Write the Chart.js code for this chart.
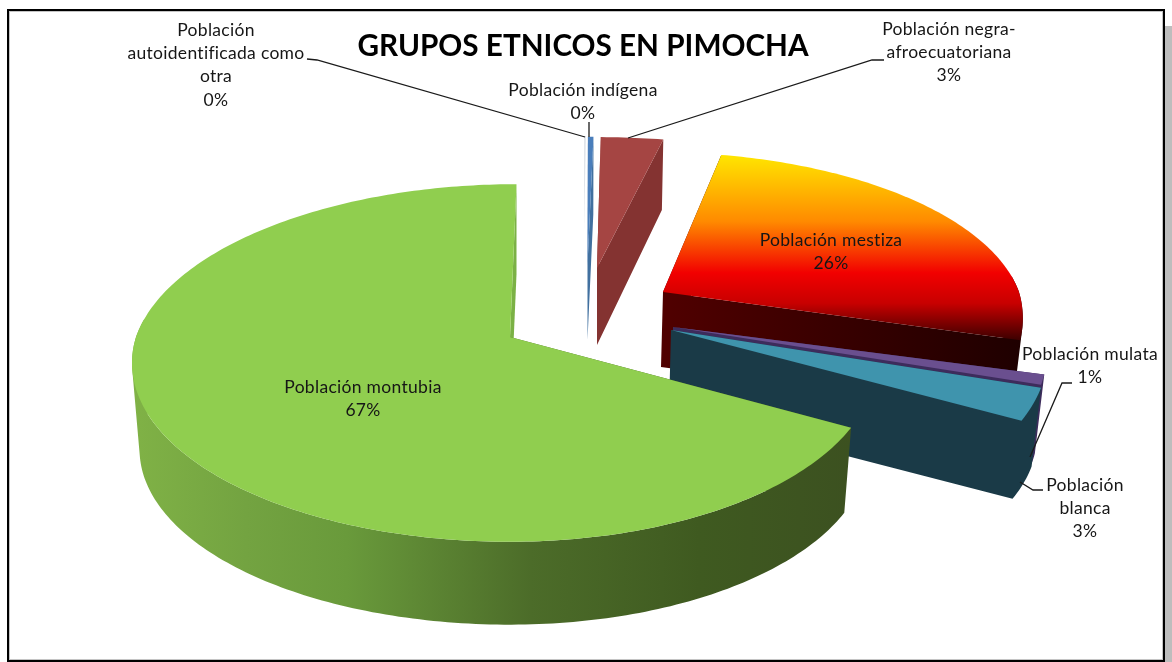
<!DOCTYPE html>
<html><head><meta charset="utf-8">
<style>
html,body{margin:0;padding:0;background:#fff;width:1172px;height:662px;overflow:hidden}
#wrap{position:absolute;left:0;top:0;width:1166px;height:662px}
#frame{position:absolute;left:7px;top:9px;width:1154px;height:649px;border:2px solid #000;box-shadow:inset 1px 1px 0 #c4c4c4,inset -1px -1px 0 #c4c4c4;pointer-events:none}
#shadow{position:absolute;left:1165px;top:26px;width:7px;height:636px;background:#bdbdbd}
</style></head><body>
<div id="wrap"><canvas id="c" width="1166" height="662"></canvas></div>
<div id="frame"></div><div id="shadow"></div>
<script src="https://cdn.jsdelivr.net/npm/chart.js@4"></script>
<script>
const chartTitle = 'GRUPOS ETNICOS EN PIMOCHA';
const categories = ['Población autoidentificada como otra','Población indígena','Población negra-afroecuatoriana','Población mestiza','Población mulata','Población blanca','Población montubia'];
const values = [0.1, 0.3, 2.9, 25.9, 0.9, 2.9, 67.0];
const topColors = ['#c4ccd6','#4a7ebb','#a54543','#ff0000','#6a4f8f','#3f94ad','#90ce4f'];
const wallColors = ['#c4ccd6','#41709f','#843331','#3a0000','#3d2c5c','#1a3a47','#5f8436'];
const labelLines = [
  ['Población','autoidentificada como','otra'],['Población indígena'],['Población negra-','afroecuatoriana'],
  ['Población mestiza'],['Población mulata'],['Población','blanca'],['Población montubia']];

// layout of the exploded, perspective view of each slice (index follows categories)
const sliceView = [
  {x:584.5,y:232,d:0,  fxE:180,fxW:180,fy:110,b:1,by:1,sk:0,bx:0},
  {x:587.5,y:265,d:75, fxE:340,fxW:340,fy:147,b:0.98,by:0.98,sk:-1.5,bx:0},
  {x:597,  y:268,d:77, fxE:395,fxW:395,fy:150,b:0.98,by:1.05,sk:-5,bx:0},
  {x:663,  y:292,d:75, fxE:356,fxW:356,fy:160,fyS:178,b:0.98,by:0.98,sk:-6,bx:-2},
  {x:673,  y:327,d:80, fxE:370,fxW:370,fy:175,b:0.98,by:0.98,sk:0,bx:-2},
  {x:671,  y:330,d:80, fxE:372,fxW:372,fy:175,b:0.98,by:0.98,sk:0,bx:-2},
  {x:510,  y:337,d:87, fxE:362,fxW:374,fy:175,b:0.98,by:0.98,sk:6.5,bx:0}];
const drawOrder = [0,1,2,3,4,5,6];
const K = 0.1453;
const labelPos = [[216,30],[583,90],[949,29],[831,240],[1090,354],[1085,485],[363,387]];
const leaders = [
  [[307,59],[317,60],[585,137]],[[589,122],[589,137]],[[884,60],[872,60],[628,138]],
  [],[[1072,383],[1062,383],[1030,457]],[[1043,490],[1033,490],[1020,482]],[]];
const LABEL_FONT = '17.5px Lato';

function pt(g,a,r,bottom){
  const u=r*Math.cos(a), v=r*Math.sin(a), w=1-K*v;
  const fx=u>0?g.fxE:g.fxW, fy=(v>0&&g.fyS)?g.fyS:g.fy;
  const shear=v<0?-v*g.sk:0;
  return [g.x+shear+fx*u/w*(bottom?g.b:1)+(bottom?g.bx:0), g.y+(bottom?g.d:0)+fy*v/w*(bottom?g.by:1)];
}
function addPoly(ctx,pts){
  // consistent winding so a union of quads fills with no seams
  let area=0;pts.forEach((p,i)=>{const q=pts[(i+1)%pts.length];area+=p[0]*q[1]-q[0]*p[1];});
  const o=area<0?pts.slice().reverse():pts;
  o.forEach((p,i)=>i?ctx.lineTo(p[0],p[1]):ctx.moveTo(p[0],p[1]));ctx.closePath();
}
function poly(ctx,pts,fill){ctx.beginPath();addPoly(ctx,pts);ctx.fillStyle=fill;ctx.fill();}
function wallFill(ctx,i){
  if(i===6){const g=ctx.createLinearGradient(132,0,850,0);
    g.addColorStop(0,'#80b246');g.addColorStop(0.16,'#73a341');g.addColorStop(0.3,'#699a3b');g.addColorStop(0.415,'#5c8533');g.addColorStop(0.555,'#4c6c29');g.addColorStop(0.79,'#3f5a20');g.addColorStop(1,'#3c5120');return g;}
  if(i===3){const g=ctx.createLinearGradient(663,0,1020,0);
    g.addColorStop(0,'#500000');g.addColorStop(1,'#1f0000');return g;}
  return wallColors[i];
}
function topFill(ctx,i){
  if(i===3){const g=ctx.createLinearGradient(0,155,0,345);
    g.addColorStop(0,'#ffe600');g.addColorStop(0.35,'#ff8a00');g.addColorStop(0.62,'#f20000');g.addColorStop(0.78,'#c80000');g.addColorStop(1,'#2a0000');return g;}
  return topColors[i];
}
const pie3d = {
  id:'pie3d',
  beforeDatasetsDraw(chart){
    const ctx=chart.ctx, arcs=chart.getDatasetMeta(0).data;
    ctx.save();
    drawOrder.forEach(i=>{
      const g=sliceView[i], a0=arcs[i].startAngle, a1=arcs[i].endAngle, n=Math.max(2,Math.ceil((a1-a0)*60));
      const ang=[];for(let k=0;k<=n;k++)ang.push(a0+(a1-a0)*k/n);
      const wf=wallFill(ctx,i);
      if(g.d>0){
        const A=pt(g,0,0,false),B=pt(g,0,0,true);
        if(i===6) poly(ctx,[A,pt(g,a1,1,false),pt(g,a1,1,true),B],'#7bb145');
        ctx.beginPath();
        addPoly(ctx,[A,pt(g,a0,1,false),pt(g,a0,1,true),B]);
        if(i!==6) addPoly(ctx,[A,pt(g,a1,1,false),pt(g,a1,1,true),B]);
        for(let k=0;k<n;k++){
          if(Math.sin(ang[k])<-0.1&&Math.sin(ang[k+1])<-0.1)continue; // back of the rim is hidden
          addPoly(ctx,[pt(g,ang[k],1,false),pt(g,ang[k+1],1,false),pt(g,ang[k+1],1,true),pt(g,ang[k],1,true)]);
        }
        ctx.fillStyle=wf;ctx.fill();
      }
      poly(ctx,[pt(g,0,0,false)].concat(ang.map(a=>pt(g,a,1,false))),topFill(ctx,i));
    });
    ctx.restore();
    return false;
  },
  afterDraw(chart){
    const ctx=chart.ctx;
    ctx.save();
    ctx.strokeStyle='#1a1a1a';ctx.lineWidth=1.3;
    leaders.forEach(l=>{if(!l.length)return;ctx.beginPath();l.forEach((p,i)=>i?ctx.lineTo(p[0],p[1]):ctx.moveTo(p[0],p[1]));ctx.stroke();});
    ctx.font=LABEL_FONT;ctx.letterSpacing='0.3px';ctx.fillStyle='#161616';ctx.textAlign='center';ctx.textBaseline='middle';
    const total=values.reduce((a,b)=>a+b,0);
    labelLines.forEach((ls,i)=>{
      const [x,y]=labelPos[i];
      ls.concat([Math.round(values[i]/total*100)+'%']).forEach((t,k)=>ctx.fillText(t,x,y+k*23.4));
    });
    ctx.restore();
  }
};
new Chart(document.getElementById('c'),{
  type:'pie',
  data:{labels:categories,datasets:[{data:values,backgroundColor:topColors,borderWidth:0}]},
  options:{
    responsive:false,animation:false,
    plugins:{
      legend:{display:false},tooltip:{enabled:false},
      title:{display:true,text:chartTitle,color:'#000',font:{family:'Lato',size:29.7,weight:'bold'},padding:{top:29,bottom:0}}
    }
  },
  plugins:[pie3d]
});
</script>
</body></html>
